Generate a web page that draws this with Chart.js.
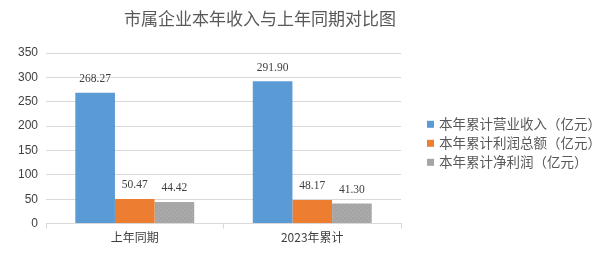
<!DOCTYPE html>
<html>
<head>
<meta charset="utf-8">
<script src="https://cdn.jsdelivr.net/npm/chart.js@4/dist/chart.umd.min.js"></script>
<style>
  html, body { margin: 0; padding: 0; background: #fff; }
  #wrap { width: 600px; height: 255px; }
</style>
</head>
<body>
<div id="wrap"><canvas id="myChart"></canvas></div>
<script>
// Chart data
const chartTitle = "市属企业本年收入与上年同期对比图";
const categories = ["上年同期", "2023年累计"];
const seriesNames = ["本年累计营业收入（亿元）", "本年累计利润总额（亿元）", "本年累计净利润（亿元）"];
const revenue = [268.27, 291.90];
const totalProfit = [50.47, 48.17];
const netProfit = [44.42, 41.30];
const yTicks = [0, 50, 100, 150, 200, 250, 300, 350];

const FONT = '"Noto Sans CJK SC", "Noto Sans", sans-serif';
const COLORS = ['#5B9BD5', '#ED7D31', '#A5A5A5'];

// dotted fill for the gray bars
function dotPattern() {
    const c = document.createElement('canvas');
    c.width = 4; c.height = 4;
    const g = c.getContext('2d');
    g.fillStyle = '#A5A5A5';
    g.fillRect(0, 0, 4, 4);
    g.fillStyle = '#B4B4B4';
    g.fillRect(0, 0, 1, 1);
    g.fillRect(2, 2, 1, 1);
    return g.createPattern(c, 'repeat');
}

// value labels, title and legend (legend sits right of the plot area)
const decorations = {
    id: 'decorations',
    afterDatasetsDraw(chart) {
        const ctx = chart.ctx;
        const area = chart.chartArea;
        ctx.save();

        // values above bars
        ctx.font = '11.5px "Liberation Serif", serif';
        ctx.fillStyle = '#404040';
        ctx.textAlign = 'center';
        ctx.textBaseline = 'bottom';
        chart.data.datasets.forEach((ds, i) => {
            const meta = chart.getDatasetMeta(i);
            meta.data.forEach((bar, j) => {
                ctx.fillText(ds.data[j].toFixed(2), bar.x, bar.y - 8);
            });
        });

        // title
        ctx.font = '17px ' + FONT;
        ctx.fillStyle = '#595959';
        ctx.textBaseline = 'middle';
        ctx.fillText(chartTitle, 260, 19);

        // legend
        ctx.font = '13.5px ' + FONT;
        ctx.textAlign = 'left';
        const lx = area.right + 26;
        const midY = (area.top + area.bottom) / 2 + 5;
        seriesNames.forEach((name, i) => {
            const y = midY + (i - 1) * 19;
            ctx.fillStyle = COLORS[i];
            ctx.fillRect(lx, y - 3.5, 7, 7);
            ctx.fillStyle = '#595959';
            ctx.fillText(name, lx + 12, y);
        });

        ctx.restore();
    }
};

const ctx = document.getElementById('myChart').getContext('2d');
const myChart = new Chart(ctx, {
    type: 'bar',
    data: {
        labels: categories,
        datasets: [
            { label: seriesNames[0], data: revenue, backgroundColor: COLORS[0] },
            { label: seriesNames[1], data: totalProfit, backgroundColor: COLORS[1] },
            { label: seriesNames[2], data: netProfit, backgroundColor: dotPattern() }
        ]
    },
    options: {
        responsive: true,
        maintainAspectRatio: false,
        animation: false,
        datasets: {
            bar: { barPercentage: 1, categoryPercentage: 0.67 }
        },
        layout: { padding: { left: 10, right: 199, top: 53, bottom: 8 } },
        plugins: {
            title: { display: false },
            legend: { display: false },
            tooltip: { enabled: false }
        },
        scales: {
            x: {
                grid: { drawOnChartArea: false, drawTicks: true, tickLength: 5, color: '#D9D9D9' },
                border: { color: '#D9D9D9' },
                ticks: { color: '#404040', font: { family: FONT, size: 12 }, padding: 2 }
            },
            y: {
                min: 0,
                max: 350,
                afterBuildTicks(axis) { axis.ticks = yTicks.map(v => ({ value: v })); },
                grid: { color: '#D9D9D9', drawTicks: false },
                border: { display: false },
                ticks: { color: '#404040', font: { family: '"Liberation Sans", sans-serif', size: 12 }, padding: 8 }
            }
        }
    },
    plugins: [decorations]
});
</script>
</body>
</html>
